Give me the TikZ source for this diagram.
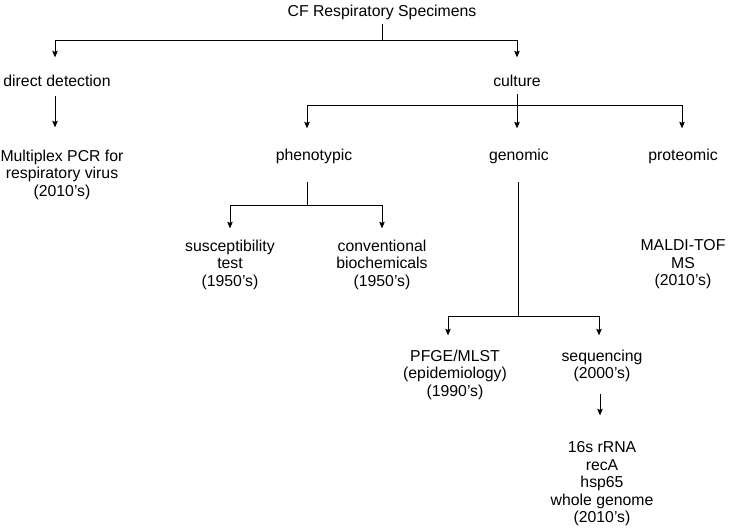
\documentclass[tikz,border=0pt]{standalone}
\usepackage{fontspec}
\setmainfont{Liberation Sans}
\usetikzlibrary{arrows.meta}
\begin{document}
\begin{tikzpicture}[
    x=1pt,y=-1pt,
    lbl/.style={font=\fontsize{15.8}{17.5}\selectfont,align=center,inner sep=0pt,anchor=north},
    arr/.style={-{Stealth[length=6.5pt,width=5.5pt,inset=1pt]}},
    every path/.style={line width=0.9pt},
  ]
  \useasboundingbox (0,0) rectangle (729,528);
  \node[lbl] (root) at (382,4.35) {CF Respiratory Specimens};
  \node[lbl] (direct) at (57,74.35) {direct detection};
  \node[lbl] (culture) at (517,74.35) {culture};
  \node[lbl] (multiplex) at (62,149.35) {Multiplex PCR for\\respiratory virus\\(2010's)};
  \node[lbl] (phen) at (314,148.35) {phenotypic};
  \node[lbl] (genomic) at (519,148.35) {genomic};
  \node[lbl] (proteomic) at (683,148.35) {proteomic};
  \node[lbl] (susc) at (230,239.35) {susceptibility\\test\\(1950's)};
  \node[lbl] (conv) at (382,239.35) {conventional\\biochemicals\\(1950's)};
  \node[lbl] (maldi) at (683,239.35) {MALDI-TOF\\MS\\(2010's)};
  \node[lbl] (pfge) at (455,349.35) {PFGE/MLST\\(epidemiology)\\(1990's)};
  \node[lbl] (seq) at (602,349.35) {sequencing\\(2000's)};
  \node[lbl] (gene) at (602,441.35) {16s rRNA\\recA\\hsp65\\whole genome\\(2010's)};
  \coordinate (rootsplit) at (382,40);
  \coordinate (culsplit) at (517,105);
  \coordinate (phensplit) at (307,205);
  \coordinate (gensplit) at (518,316);
  \draw[shorten <=4pt] (root) -- (rootsplit);
  \draw[arr,shorten >=17pt] (rootsplit) -| ([xshift=-2pt]direct.north);
  \draw[arr,shorten >=17pt] (rootsplit) -| (culture.north);
  \draw[arr,shorten <=9.5pt,shorten >=22pt] ([xshift=-2pt]direct.south) -- ([xshift=-2pt]direct.south |- multiplex.north);
  \draw[shorten <=7pt] (culture) -- (culsplit);
  \draw[arr,shorten >=20pt] (culsplit) -| ([xshift=-7pt]phen.north);
  \draw[arr,shorten >=20pt] (culsplit) -- (culsplit |- genomic.north);
  \draw[arr,shorten >=20pt] (culsplit) -| ([xshift=-1pt]proteomic.north);
  \draw[shorten <=18pt] ([xshift=-7pt]phen.south) -- (phensplit);
  \draw[arr,shorten >=11pt] (phensplit) -| (susc.north);
  \draw[arr,shorten >=11pt] (phensplit) -| (conv.north);
  \draw[shorten <=18pt] ([xshift=-1pt]genomic.south) -- (gensplit);
  \draw[arr,shorten >=14pt] (gensplit) -| ([xshift=-7pt]pfge.north);
  \draw[arr,shorten >=14pt] (gensplit) -| ([xshift=-3pt]seq.north);
  \draw[arr,shorten <=11.5pt,shorten >=26pt] ([xshift=-2pt]seq.south) -- ([xshift=-2pt]seq.south |- gene.north);
\end{tikzpicture}
\end{document}
